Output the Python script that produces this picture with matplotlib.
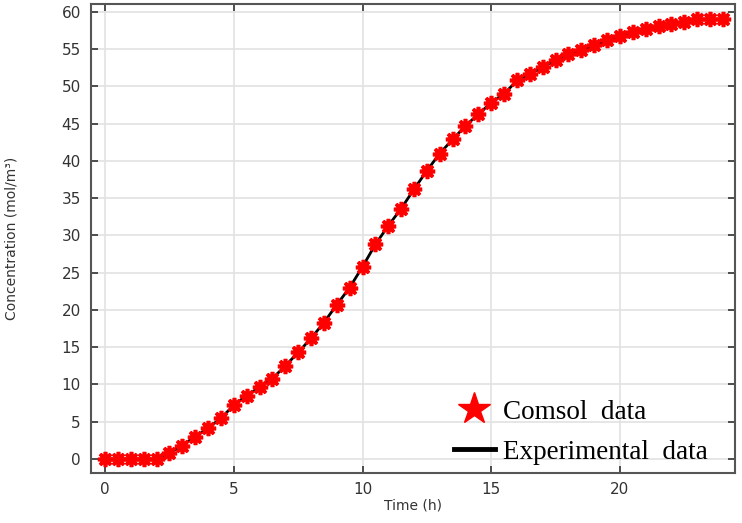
import numpy as np
import matplotlib.pyplot as plt
from matplotlib.lines import Line2D

# time (h) and concentration (mol/m3)
time_h = np.arange(0, 24.5, 0.5)
conc = [0, 0, 0, 0, 0, 0.8, 1.8, 3.0, 4.1, 5.5,
        7.2, 8.5, 9.6, 10.8, 12.5, 14.3, 16.2, 18.3, 20.7, 23.0,
        25.8, 28.8, 31.3, 33.6, 36.2, 38.7, 41.0, 42.9, 44.7, 46.3,
        47.8, 49.0, 50.8, 51.7, 52.6, 53.5, 54.3, 54.9, 55.5, 56.2,
        56.8, 57.3, 57.7, 58.1, 58.4, 58.7, 59.0, 59.0, 59.0]

xticks = [0, 5, 10, 15, 20]
yticks = list(range(0, 61, 5))

fig = plt.figure(figsize=(7.42, 5.23), dpi=100)
ax = fig.add_axes([0.1222, 0.0962, 0.8684, 0.8962])

ax.plot(time_h, conc, color="black", lw=2, zorder=2)
ax.plot(time_h, conc, linestyle="none", marker=(8, 2, 0), markersize=11,
        markeredgewidth=2.6, color="red", zorder=3)

ax.set_xlim(-0.56, 24.47)
ax.set_ylim(-1.84, 61.07)
ax.set_xticks(xticks)
ax.set_yticks(yticks)
ax.grid(True, color="#e2e2e2", lw=1.2)
ax.set_axisbelow(True)
ax.tick_params(direction="in", top=True, right=True, length=5, width=1.2,
               labelsize=11, colors="#333333", labelcolor="#333333", pad=7)
for s in ax.spines.values():
    s.set_color("#555555")
    s.set_linewidth(1.5)

ax.set_xlabel("Time (h)", fontsize=10, color="#333333", labelpad=1)
ax.set_ylabel("Concentration (mol/m³)", fontsize=10, color="#333333", labelpad=31)

handles = [Line2D([], [], linestyle="none", marker="*", markersize=24, color="red"),
           Line2D([], [], color="black", lw=3.5)]
ax.legend(handles, ["Comsol  data", "Experimental  data"], loc="lower right",
          frameon=False, prop={"family": "Liberation Serif", "size": 19.5},
          handlelength=1.5, handletextpad=0.3, labelspacing=0.55,
          bbox_to_anchor=(0.995, -0.035))

fig.savefig("out.png", dpi=100)
